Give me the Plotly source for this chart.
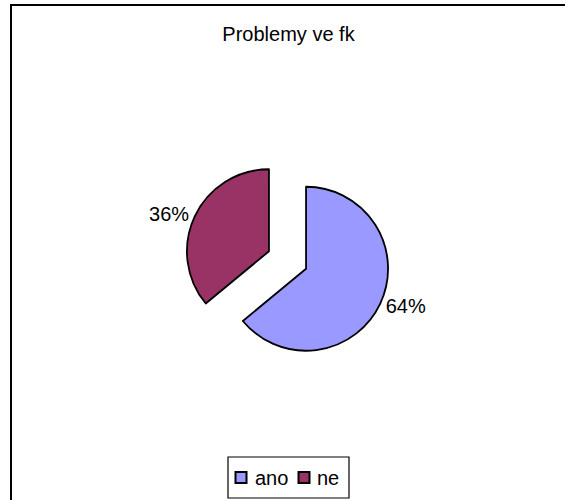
import plotly.graph_objects as go

labels = ["ano", "ne"]
values = [64, 36]
colors = ["#9999FF", "#993366"]
pulls = [0.25, 0.25]

W, H = 565, 501
FONT = "Liberation Sans, Arial, sans-serif"


def px(x):
    return x / W


def py(y):
    return 1 - y / H


# pie box in pixels (centre and half-size)
cx, cy, half = 287.5, 260, 102.5

fig = go.Figure(
    go.Pie(
        labels=labels,
        values=values,
        sort=False,
        direction="clockwise",
        rotation=0,
        pull=pulls,
        marker=dict(colors=colors, line=dict(color="black", width=1.8)),
        textinfo="percent",
        textposition="outside",
        textfont=dict(family=FONT, size=20, color="black"),
        domain=dict(x=[px(cx - half), px(cx + half)], y=[py(cy + half), py(cy - half)]),
        hoverinfo="label+percent",
        showlegend=False,
    )
)

frame = dict(color="black", width=2)
shapes = [
    # chart frame: top and left edges
    dict(type="line", xref="paper", yref="paper",
         x0=px(10), x1=1, y0=py(5), y1=py(5), line=frame, layer="above"),
    dict(type="line", xref="paper", yref="paper",
         x0=px(11), x1=px(11), y0=py(500), y1=py(4), line=frame, layer="above"),
    # legend frame
    dict(type="rect", xref="paper", yref="paper",
         x0=px(228), x1=px(349), y0=py(498), y1=py(457),
         line=dict(color="black", width=1.2), fillcolor="white", layer="above"),
]
annotations = []

# legend entries: swatch + label, laid out left to right
swatch_x = [235, 298]
text_x = [253, 315]
for lab, col, sx, tx in zip(labels, colors, swatch_x, text_x):
    shapes.append(dict(type="rect", xref="paper", yref="paper",
                       x0=px(sx + 0.5), x1=px(sx + 11.5), y0=py(483), y1=py(472),
                       line=dict(color="black", width=2), fillcolor=col, layer="above"))
    annotations.append(dict(text=lab, xref="paper", yref="paper",
                            x=px(tx), y=py(477.5), xanchor="left", yanchor="middle",
                            showarrow=False,
                            font=dict(family=FONT, size=20, color="black")))

fig.update_layout(
    width=W,
    height=H,
    margin=dict(l=0, r=0, t=0, b=0),
    paper_bgcolor="white",
    plot_bgcolor="white",
    font=dict(family=FONT, size=20, color="black"),
    title=dict(
        text="Problemy ve fk",
        x=px(288.5),
        xanchor="center",
        y=py(34),
        yanchor="middle",
        font=dict(family=FONT, size=20, color="black"),
    ),
    showlegend=False,
    shapes=shapes,
    annotations=annotations,
)

fig.write_html("out.html")
